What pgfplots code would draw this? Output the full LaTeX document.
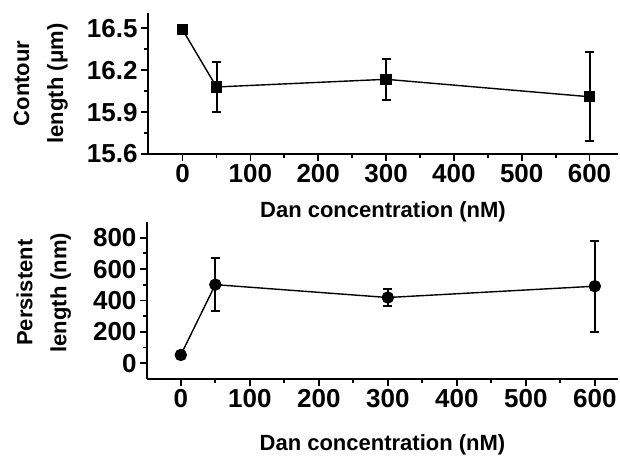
\documentclass[border=0pt]{standalone}
\usepackage{fontspec}
\setmainfont{Liberation Sans}
\usepackage{pgfplots}
\pgfplotsset{compat=1.18}
\begin{document}
\begin{tikzpicture}[x=1pt,y=1pt]
\useasboundingbox (0,0) rectangle (620,457);
\pgfplotsset{
 common/.style={
  scale only axis, width=470pt,
  axis x line*=bottom, axis y line*=left,
  axis line style={line width=1.8pt,-},
  tick align=outside,
  major tick length=7pt, minor tick length=4pt,
  every tick/.style={line width=1.8pt,black},
  xtick={0,100,...,600}, minor x tick num=1, minor y tick num=1,
  tick label style={font=\bfseries\fontsize{26}{30}\selectfont},
  /pgf/number format/assume math mode=true,
  label style={font=\bfseries\fontsize{22}{34}\selectfont},
  xlabel={Dan concentration (nM)},
  clip=false,
 }
}
\begin{axis}[common, at={(148pt,303pt)}, anchor=south west,
  height=141pt, xmin=-51, xmax=642, ymin=15.6, ymax=16.61,
  ytick={15.6,15.9,16.2,16.5},
  yticklabel style={/pgf/number format/.cd, fixed, fixed zerofill, precision=1},
  ylabel={Contour\\length (μm)},
  ylabel style={align=center, at={(axis description cs:-0.228,0.5)}, anchor=center},
  xlabel style={at={(axis description cs:0.5,-0.41)}, anchor=center},
]
\addplot[black, line width=1.4pt, mark=square*, mark size=5pt,
  error bars/.cd, y dir=both, y explicit,
  error mark options={rotate=90, mark size=4.5pt, line width=2pt},
  error bar style={line width=2pt}]
  coordinates {
  (0,16.49) +- (0,0)
  (50,16.08) +- (0,0.18)
  (300,16.135) +- (0,0.145)
  (600,16.01) +- (0,0.32)
  };
\end{axis}
\begin{axis}[common, at={(147pt,78pt)}, anchor=south west,
  width=471pt, height=157pt, xmin=-49, xmax=633.6, ymin=-100, ymax=900,
  ytick={0,200,...,800},
  ylabel={Persistent\\length (nm)},
  ylabel style={align=center, at={(axis description cs:-0.219,0.55)}, anchor=center},
  xlabel style={at={(axis description cs:0.5,-0.42)}, anchor=center},
]
\addplot[black, line width=1.4pt, mark=*, mark size=5.5pt,
  error bars/.cd, y dir=both, y explicit,
  error mark options={rotate=90, mark size=4.5pt, line width=2pt},
  error bar style={line width=2pt}]
  coordinates {
  (0,53) +- (0,0)
  (50,501) +- (0,167)
  (300,419) +- (0,57)
  (600,491) +- (0,290)
  };
\end{axis}
\end{tikzpicture}
\end{document}
